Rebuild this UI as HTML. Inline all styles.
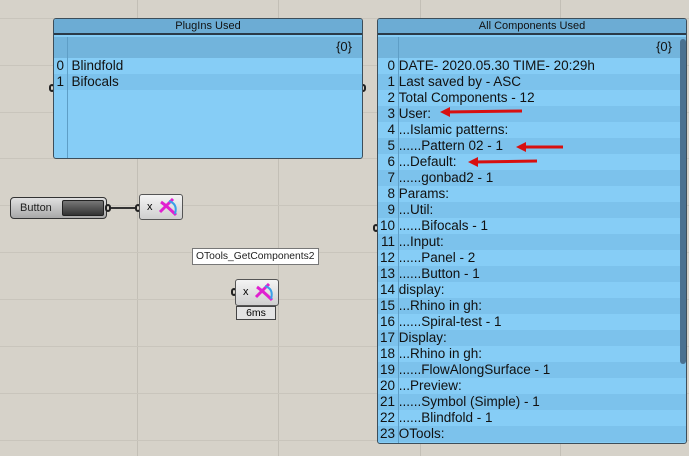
<!DOCTYPE html>
<html><head><meta charset="utf-8"><style>
*{margin:0;padding:0;box-sizing:border-box}
body{width:689px;height:456px;overflow:hidden;position:relative;font-family:"Liberation Sans","DejaVu Sans",sans-serif;background:#d6d2c9}
.vl{position:absolute;top:0;bottom:0;width:1px;background:#c3bfb6}
.hl{position:absolute;left:0;right:0;height:1px;background:#c9c5bc}
.panel{position:absolute;background:#86cdf6;border:1px solid #3d4e5a;border-radius:3px;overflow:hidden}
.hdr{position:absolute;left:0;right:0;top:0;height:16px;background:#6cacd4;border-bottom:2px solid #2a3a48;font-size:11px;text-align:center;line-height:15px;color:#111}
.br{position:absolute;left:0;right:0;top:18px;height:21px;background:#72b4dc;font-size:13px;text-align:right;padding-right:10px;line-height:20px;color:#111}
.row{position:absolute;left:0;right:0;height:16px;font-size:13.5px;line-height:16px;color:#111;white-space:nowrap}
.row.a{background:#86cdf6}.row.b{background:#7cc2ec}
.sep{position:absolute;top:18px;bottom:0;width:1px;background:#5e9ec6}
.n{display:inline-block;text-align:right}
.grip{position:absolute;width:6px;height:8px;border:2px solid #222;border-radius:4px;background:#d6d2c9}
.comp{position:absolute;background:linear-gradient(#f4f4f4,#cfcfcf);border:1px solid #555;border-radius:3px;font-size:11px}
</style></head><body>
<div class="vl" style="left:137px"></div><div class="vl" style="left:278px"></div><div class="vl" style="left:420px"></div><div class="vl" style="left:560px"></div>
<div class="hl" style="top:18px"></div><div class="hl" style="top:65px"></div><div class="hl" style="top:112px"></div><div class="hl" style="top:158px"></div><div class="hl" style="top:205px"></div><div class="hl" style="top:252px"></div><div class="hl" style="top:299px"></div><div class="hl" style="top:346px"></div><div class="hl" style="top:393px"></div><div class="hl" style="top:440px"></div>

<div class="grip" style="left:49px;top:84px"></div><div class="grip" style="left:360px;top:84px"></div>
<div class="panel" style="left:53px;top:18px;width:310px;height:141px">
<div class="hdr">PlugIns Used</div>
<div class="br">{0}</div>
<div class="row a" style="top:39px"><span class="n" style="width:10px">0</span>&nbsp; Blindfold</div>
<div class="row b" style="top:55px"><span class="n" style="width:10px">1</span>&nbsp; Bifocals</div>
<div class="sep" style="left:13px"></div>
</div>

<div class="grip" style="left:373px;top:224px"></div>
<div class="panel" style="left:377px;top:18px;width:310px;height:426px">
<div class="hdr">All Components Used</div>
<div class="br" style="padding-right:14px">{0}</div>
<div id="rows"></div>
<div class="sep" style="left:20px"></div>
<div style="position:absolute;left:302px;top:20px;width:6px;height:325px;background:#4a7190;border-radius:3px"></div>
</div>

<div style="position:absolute;left:10px;top:197px;width:97px;height:22px;border:1px solid #333;border-radius:4px;background:linear-gradient(#e0e0e0,#a8a8a8);font-size:11px;line-height:20px;padding-left:9px;color:#222">Button
<div style="position:absolute;left:51px;top:2px;width:42px;height:16px;background:linear-gradient(#777,#333);border:1px solid #222;border-radius:2px"></div></div>
<div style="position:absolute;left:108px;top:207px;width:31px;height:2px;background:#333"></div>
<div class="grip" style="left:105px;top:204px"></div>
<div class="grip" style="left:135px;top:204px"></div>
<div class="comp" style="left:139px;top:194px;width:44px;height:26px"><span style="position:absolute;left:7px;top:6px">x</span>
<svg style="position:absolute;left:18px;top:3px" width="22" height="20"><path d="M3 4 Q10 9 18 17" stroke="#e020d0" stroke-width="3" fill="none"/><path d="M2 14 L12 4 L15 1" stroke="#e020d0" stroke-width="3" fill="none"/><path d="M11 3 Q20 6 17 16" stroke="#3a9fe8" stroke-width="2" fill="none"/></svg></div>

<div style="position:absolute;left:192px;top:248px;width:127px;height:17px;background:#fff;border:1px solid #777;font-size:10.3px;line-height:15px;padding-left:3px;color:#222;white-space:nowrap;overflow:hidden">OTools_GetComponents2</div>
<div class="grip" style="left:231px;top:288px"></div>
<div class="comp" style="left:235px;top:279px;width:44px;height:27px"><span style="position:absolute;left:7px;top:6px">x</span>
<svg style="position:absolute;left:18px;top:3px" width="22" height="20"><path d="M3 4 Q10 9 18 17" stroke="#e020d0" stroke-width="3" fill="none"/><path d="M2 14 L12 4 L15 1" stroke="#e020d0" stroke-width="3" fill="none"/><path d="M11 3 Q20 6 17 16" stroke="#3a9fe8" stroke-width="2" fill="none"/></svg></div>
<div style="position:absolute;left:236px;top:306px;width:40px;height:14px;background:#e4e4e4;border:1px solid #444;font-size:10.5px;text-align:center;line-height:12px">6ms</div>

<svg style="position:absolute;left:0;top:0" width="689" height="456">
<g fill="#d81010" stroke="#d81010" stroke-width="3">
<line x1="446" y1="112" x2="522" y2="111"/><polygon points="440,112 450,107 450,117" stroke="none"/>
<line x1="522" y1="147" x2="563" y2="147"/><polygon points="516,147 526,142 526,152" stroke="none"/>
<line x1="474" y1="162" x2="537" y2="161"/><polygon points="468,162 478,157 478,167" stroke="none"/>
</g></svg>

<script>
var t=["DATE- 2020.05.30 TIME- 20:29h","Last saved by - ASC","Total Components - 12","User:","...Islamic patterns:","......Pattern 02 - 1","...Default:","......gonbad2 - 1","Params:","...Util:","......Bifocals - 1","...Input:","......Panel - 2","......Button - 1","display:","...Rhino in gh:","......Spiral-test - 1","Display:","...Rhino in gh:","......FlowAlongSurface - 1","...Preview:","......Symbol (Simple) - 1","......Blindfold - 1","OTools:"];
var h="";t.forEach(function(s,i){h+='<div class="row '+(i%2?'b':'a')+'" style="top:'+(39+i*16)+'px"><span class="n" style="width:17px">'+i+'</span>&nbsp;'+s+'</div>';});
document.getElementById("rows").innerHTML=h;
</script>
</body></html>
